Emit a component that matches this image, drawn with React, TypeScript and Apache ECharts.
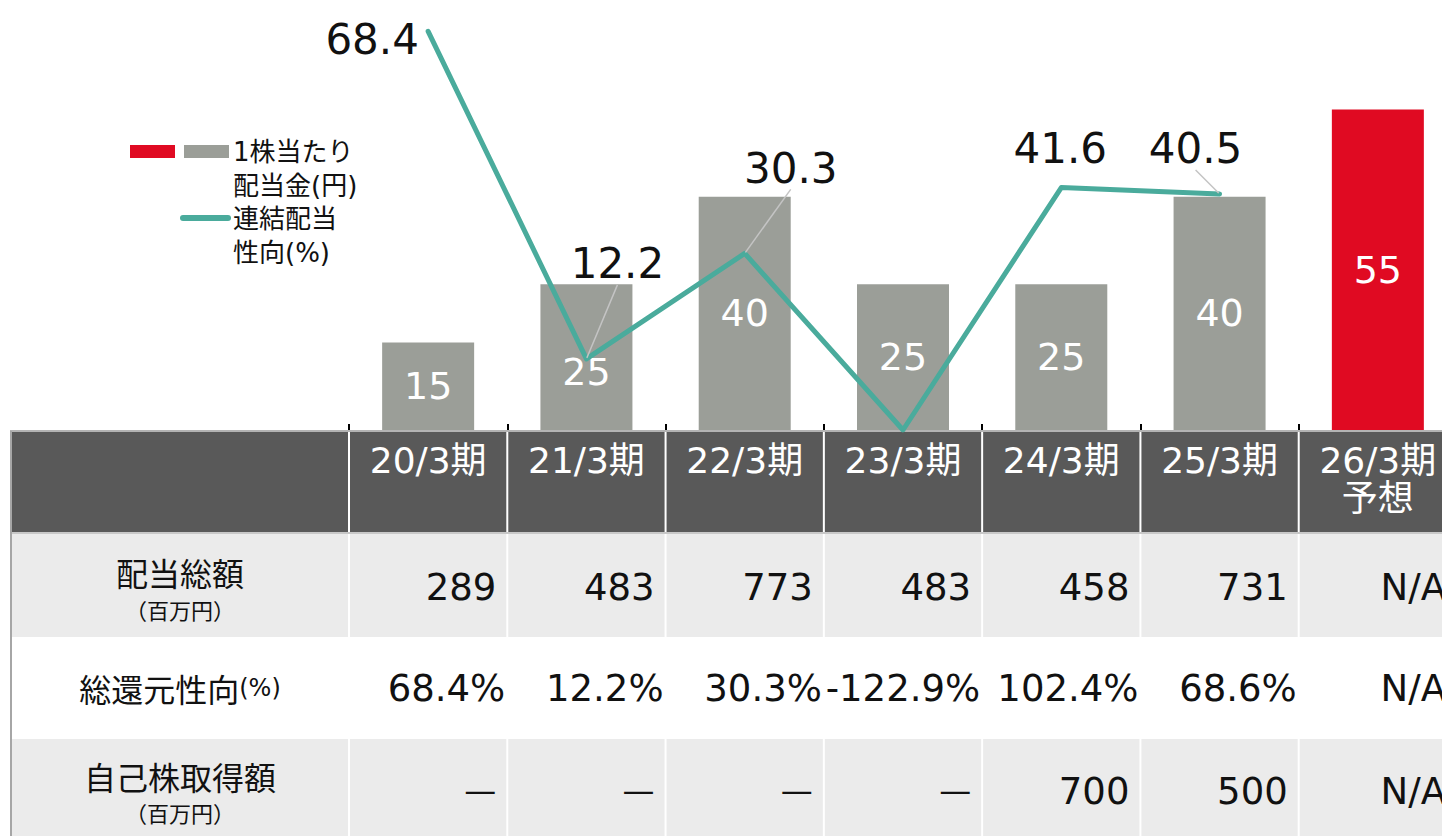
import React, { useEffect, useRef } from "react";
import * as echarts from "echarts";

const categories = ["20/3期", "21/3期", "22/3期", "23/3期", "24/3期", "25/3期", "26/3期\n予想"];
const dividendPerShare = [15, 25, 40, 25, 25, 40, 55];
const payoutRatio: (number | null)[] = [68.4, 12.2, 30.3, 0, 41.6, 40.5, null];
const totalDividend: (number | null)[] = [289, 483, 773, 483, 458, 731, null];
const totalReturnRatio: (number | null)[] = [68.4, 12.2, 30.3, -122.9, 102.4, 68.6, null];
const buyback: (number | null | "—")[] = ["—", "—", "—", "—", 700, 500, null];

const FONT = '"DejaVu Sans", "Noto Sans CJK JP", sans-serif';
const JFONT = '"Noto Sans CJK JP", sans-serif';
const GRAY = "#9b9e98";
const RED = "#e00a22";
const TEAL = "#4aab9c";
const HEADER = "#595959";
const LIGHT = "#ebebeb";

// label placement offsets (px) relative to each line point
const labelOffsets: ([number, number] | null)[] = [[-56, 8], [31, -95], [46, -85], null, [-1, -39], [-24, -45], null];
const leaderShown = [false, true, true, false, false, true, false];

export default function App() {
  const ref = useRef<HTMLDivElement>(null);
  useEffect(() => {
    const chart = echarts.init(ref.current!, null, { renderer: "svg" });
    const barData = dividendPerShare.map((v, i) => ({
      value: v,
      itemStyle: i === 6 ? { color: RED } : undefined,
      label: i === 1 ? { offset: [0, 15] } : undefined,
    }));
    const lineData = payoutRatio.map((v, i) =>
      v === null
        ? null
        : {
            value: v,
            label: i === 3 ? { show: false } : undefined,
            labelLine: { show: leaderShown[i] },
          }
    );
    chart.setOption({
      animation: false,
      textStyle: { fontFamily: FONT },
      grid: { left: 349, top: 22, width: 1108, height: 408 },
      xAxis: {
        type: "category",
        data: categories,
        axisLine: { show: false },
        axisTick: { show: true, inside: true, length: 6, lineStyle: { color: "#000", width: 2 } },
        axisLabel: { color: "#fff", fontSize: 36, lineHeight: 38, margin: 11, fontFamily: FONT },
      },
      yAxis: { type: "value", min: 0, max: 70, show: false, splitLine: { show: false } },
      series: [
        {
          type: "bar",
          data: barData,
          barWidth: 92,
          itemStyle: { color: GRAY },
          label: { show: true, position: "inside", color: "#fff", fontSize: 38, fontFamily: FONT },
          z: 2,
        },
        {
          type: "line",
          data: lineData,
          symbol: "circle",
          symbolSize: 2,
          itemStyle: { color: TEAL },
          lineStyle: { color: TEAL, width: 5, cap: "round", join: "round" },
          label: { show: true, position: "top", color: "#111", fontSize: 42, fontFamily: FONT },
          labelLine: { show: true, lineStyle: { color: "#c4c4c4", width: 1.5 } },
          labelLayout: (p: any) => {
            const o = labelOffsets[p.dataIndex];
            if (!o) return {};
            const r = p.rect;
            return {
              x: r.x + r.width / 2 + o[0],
              y: r.y + r.height / 2 + o[1],
              align: "center",
              verticalAlign: "middle",
            };
          },
          z: 5,
        },
      ],
    });

    const cx = categories.map((_, i) => chart.convertToPixel({ xAxisIndex: 0 }, i) as number);
    const half = (cx[1] - cx[0]) / 2;
    const tableLeft = 11;
    const tableRight = 1460;
    const headerTop = 431;
    const rowTops = [533, 637, 739];
    const rowBottoms = [637, 739, 836];
    const rowCenters = [587, 688, 791];
    const rowPads = [11, 2, 11];
    const els: any[] = [];
    els.push({ type: "rect", z: -10, shape: { x: tableLeft, y: headerTop, width: tableRight - tableLeft, height: rowTops[0] - headerTop }, style: { fill: HEADER } });
    const fills = [LIGHT, "#ffffff", LIGHT];
    rowTops.forEach((t, r) => {
      els.push({ type: "rect", z: -10, shape: { x: tableLeft, y: t, width: tableRight - tableLeft, height: rowBottoms[r] - t }, style: { fill: fills[r] } });
    });
    const edges = [cx[0] - half, ...cx.map((c) => c + half)];
    edges.forEach((x) => {
      els.push({ type: "line", z: -5, shape: { x1: x, y1: headerTop, x2: x, y2: 836 }, style: { stroke: "#ffffff", lineWidth: 2 } });
    });
    els.push({ type: "line", z: -4, shape: { x1: tableLeft - 1, y1: headerTop, x2: tableRight, y2: headerTop }, style: { stroke: "#b3b3b3", lineWidth: 2 } });
    els.push({ type: "line", z: -4, shape: { x1: tableLeft, y1: rowTops[0], x2: tableRight, y2: rowTops[0] }, style: { stroke: "#c8c8c8", lineWidth: 2 } });
    els.push({ type: "line", z: -4, shape: { x1: tableLeft, y1: headerTop, x2: tableLeft, y2: 836 }, style: { stroke: "#a6a6a6", lineWidth: 2 } });

    const labelX = (tableLeft + edges[0]) / 2;
    const txt = (text: string, x: number, y: number, size: number, align = "center", family = FONT) => ({
      type: "text",
      z: 10,
      x,
      y,
      style: { text, fill: "#111", font: `${size}px ${family}`, align, verticalAlign: "middle" },
    });
    els.push(txt("配当総額", labelX, 572, 32, "center", JFONT));
    els.push(txt("（百万円）", labelX, 609, 22, "center", JFONT));
    els.push({
      type: "text",
      z: 10,
      x: labelX,
      y: 688,
      style: {
        text: "総還元性向{s|(%)}",
        fill: "#111",
        font: `32px ${JFONT}`,
        align: "center",
        verticalAlign: "middle",
        rich: { s: { fontSize: 24, fontFamily: FONT, fill: "#111" } },
      },
    });
    els.push(txt("自己株取得額", labelX, 776, 32, "center", JFONT));
    els.push(txt("（百万円）", labelX, 812, 22, "center", JFONT));

    const fmtNum = (v: number | null) => (v === null ? "N/A" : String(v));
    const fmtPct = (v: number | null) => (v === null ? "N/A" : v.toFixed(1) + "%");
    const fmtBuy = (v: number | null | "—") => (v === null ? "N/A" : String(v));
    categories.forEach((_, i) => {
      const right = cx[i] + half;
      els.push(txt(fmtNum(totalDividend[i]), right - rowPads[0], rowCenters[0], 37, "right"));
      const pv = totalReturnRatio[i];
      els.push(txt(fmtPct(pv), right - (pv === null ? 11 : rowPads[1]), rowCenters[1], 37, "right"));
      const b = buyback[i];
      els.push(txt(fmtBuy(b), right - rowPads[2], rowCenters[2], b === "—" ? 32 : 37, "right"));
    });

    // legend
    els.push({ type: "rect", z: 10, shape: { x: 130, y: 145, width: 45, height: 13 }, style: { fill: RED } });
    els.push({ type: "rect", z: 10, shape: { x: 184, y: 145, width: 45, height: 13 }, style: { fill: GRAY } });
    els.push({ type: "line", z: 10, shape: { x1: 183, y1: 218, x2: 228, y2: 218 }, style: { stroke: TEAL, lineWidth: 6, lineCap: "round" } });
    els.push(txt("1株当たり", 233, 152, 26, "left"));
    els.push(txt("配当金(円)", 233, 186, 26, "left"));
    els.push(txt("連結配当", 233, 219, 26, "left"));
    els.push(txt("性向(%)", 233, 253, 26, "left"));

    chart.setOption({ graphic: els });
    return () => chart.dispose();
  }, []);
  return (
    <div style={{ position: "absolute", left: 0, top: 0, width: 1442, height: 836, overflow: "hidden" }}>
      <div ref={ref} style={{ width: 1460, height: 836 }} />
    </div>
  );
}
